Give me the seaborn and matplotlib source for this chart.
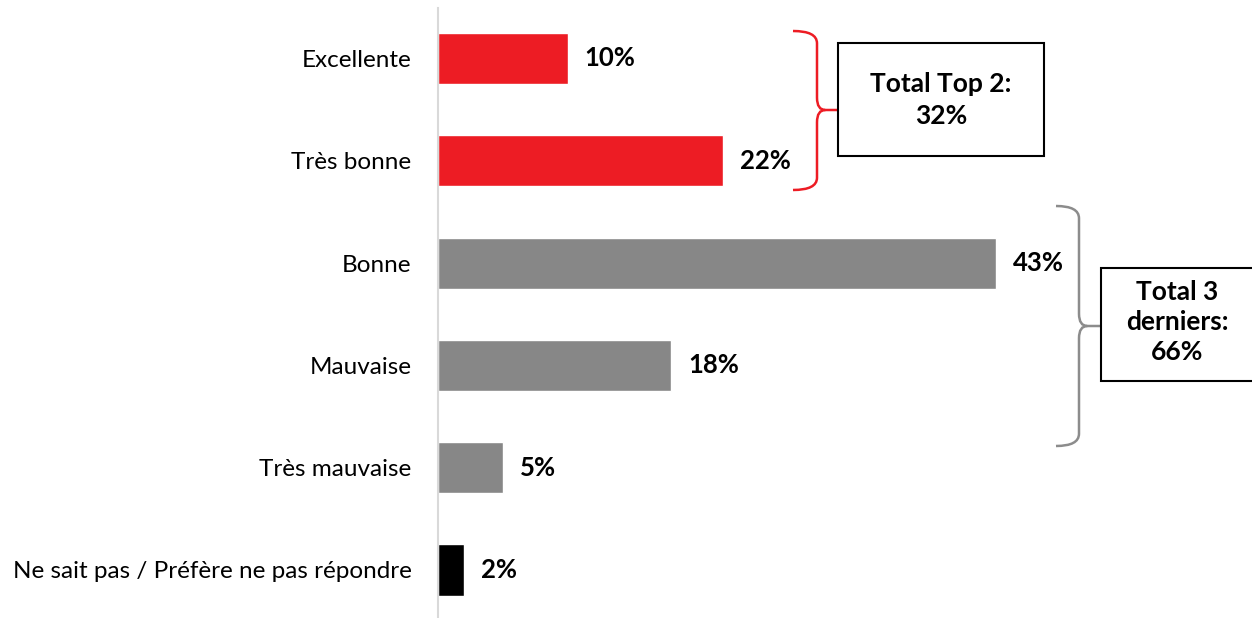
import matplotlib
matplotlib.use("Agg")
import matplotlib.pyplot as plt
from matplotlib.path import Path
from matplotlib.patches import PathPatch, Rectangle
import seaborn as sns
import pandas as pd

categories = ["Excellente", "Très bonne", "Bonne", "Mauvaise", "Très mauvaise",
              "Ne sait pas / Préfère ne pas répondre"]
values = [10, 22, 43, 18, 5, 2]
bar_colors = ["#ED1C24", "#ED1C24", "#878787", "#878787", "#878787", "#000000"]
box_texts = ["Total Top 2:\n32%", "Total 3\nderniers:\n66%"]

RED = "#ED1C24"
GREY = "#8C8C8C"

sns.set_theme(style="white")
plt.rcParams["font.family"] = ["Lato", "DejaVu Sans"]
plt.rcParams["text.color"] = "black"

df = pd.DataFrame({"cat": categories, "val": values})

# pixel -> data helpers (axes spans the full figure height)
def px(x):
    return (x - 438) / 12.97


def py(y):
    return (y - 58.5) / 102.3


fig = plt.figure(figsize=(12.52, 6.18), dpi=100)
ax = fig.add_axes([438 / 1252, 0, 814 / 1252, 1])
sns.barplot(data=df, x="val", y="cat", hue="cat", palette=bar_colors,
            width=0.5, orient="h", legend=False, ax=ax, saturation=1)

ax.set_xlim(0, px(1252))
ax.set_ylim(py(618), py(0))
ax.set_xlabel("")
ax.set_ylabel("")
ax.set_xticks([])
for s in ["top", "right", "bottom"]:
    ax.spines[s].set_visible(False)
ax.spines["left"].set_color("#D9D9D9")
ax.spines["left"].set_linewidth(1.5)
ax.spines["left"].set_bounds(py(618), py(8))
ax.tick_params(axis="y", length=0, pad=19, labelsize=17.5, labelcolor="black")

for i, v in enumerate(values):
    ax.text(v + 1.3, i, f"{v}%", va="center", ha="left", fontsize=18.5,
            fontweight="bold", color="black")


def brace(x0, x1, xtip, ytop, ybot, ymid, color):
    rx = 1.6
    ry = 0.12
    verts = [
        (x0, ytop), (x1, ytop), (x1, ytop + ry),
        (x1, ymid - ry),
        (x1, ymid), (x1 + rx * 0.4, ymid),
        (xtip, ymid),
        (x1 + rx * 0.4, ymid), (x1, ymid), (x1, ymid + ry),
        (x1, ybot - ry),
        (x1, ybot), (x0, ybot),
    ]
    codes = [
        Path.MOVETO, Path.CURVE3, Path.CURVE3,
        Path.LINETO,
        Path.CURVE3, Path.CURVE3,
        Path.LINETO,
        Path.MOVETO, Path.CURVE3, Path.CURVE3,
        Path.LINETO,
        Path.CURVE3, Path.CURVE3,
    ]
    ax.add_patch(PathPatch(Path(verts, codes), fill=False, edgecolor=color,
                           lw=1.8, clip_on=False))


# top 2 bracket and box
brace(px(793), px(817), px(838), py(31), py(190), py(110), RED)
ax.add_patch(Rectangle((px(838), py(43)), px(1044) - px(838), py(156) - py(43),
                       fill=True, facecolor="white", edgecolor="black", lw=1.5,
                       clip_on=False))
ax.text(px(941), py(100), box_texts[0],
        ha="center", va="center", fontsize=19, fontweight="bold",
        color="black", linespacing=1.4)

# last 3 bracket and box
brace(px(1056), px(1079), px(1101), py(206), py(446), py(326), GREY)
ax.add_patch(Rectangle((px(1101), py(268)), px(1262) - px(1101), py(381) - py(268),
                       fill=True, facecolor="white", edgecolor="black", lw=1.5,
                       clip_on=False))
ax.text(px(1177), py(322), box_texts[1],
        ha="center", va="center", fontsize=19, fontweight="bold",
        color="black", linespacing=1.3)

fig.savefig("out.png", dpi=100)
